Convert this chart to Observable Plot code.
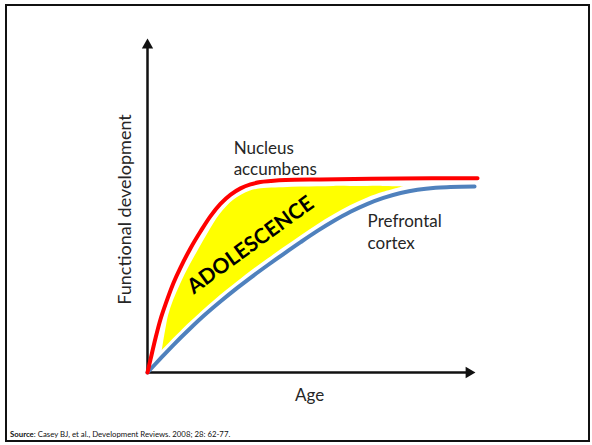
<!DOCTYPE html>
<html>
<head>
<meta charset="utf-8">
<script src="https://cdn.jsdelivr.net/npm/d3@7"></script>
<script src="https://cdn.jsdelivr.net/npm/@observablehq/plot@0.6"></script>
<style>
  html, body { margin: 0; padding: 0; background: #fff; }
  #wrap { position: relative; width: 592px; height: 445px; overflow: hidden; font-family: Lato, "Open Sans", sans-serif; }
  #frame { position: absolute; left: 5px; top: 4px; width: 585px; height: 438px; border: 2.5px solid #111; box-sizing: border-box; pointer-events: none; }
  #chart { position: absolute; left: 0; top: 0; }
  #caption { position: absolute; left: 10px; top: 430px; font-size: 7.8px; line-height: 8px; color: #111; white-space: nowrap; }
</style>
</head>
<body>
<div id="wrap">
  <div id="chart"></div>
  <div id="frame"></div>
  <div id="caption"><b>Source</b>: Casey BJ, et al., Development Reviews. 2008; 28: 62-77.</div>
</div>
<script>
// Nucleus accumbens (red) — age vs functional development (0–10 arbitrary units)
const redAge   = [0, 0.09, 0.24, 0.39, 0.55, 0.79, 1.00, 1.30, 1.61, 1.91, 2.21, 2.52, 2.82, 3.12, 3.42, 3.73, 4.18, 5.24, 7.67, 10];
const redLevel = [0, 0.39, 1.03, 1.60, 2.08, 2.72, 3.18, 3.76, 4.28, 4.74, 5.11, 5.39, 5.58, 5.70, 5.77, 5.80, 5.83, 5.85, 5.88, 5.89];

// Prefrontal cortex (blue)
const blueAge   = [0, 0.39, 0.79, 1.30, 1.73, 2.21, 2.73, 3.12, 3.64, 4.12, 4.64, 5.15, 5.64, 6.15, 6.67, 7.15, 7.67, 8.18, 8.73, 9.18, 9.91];
const blueLevel = [0, 0.42, 0.84, 1.34, 1.74, 2.15, 2.57, 2.87, 3.25, 3.59, 3.95, 4.29, 4.59, 4.87, 5.11, 5.29, 5.44, 5.54, 5.60, 5.62, 5.64];

// Adolescence band (yellow)
const bandAge  = [0.45, 0.55, 0.64, 0.79, 1.00, 1.30, 1.55, 1.85, 2.21, 2.61, 3.12, 3.64, 4.12, 4.64, 5.15, 5.64, 6.15, 6.67, 7.15, 7.76];
const bandLow  = [0.67, 0.77, 0.86, 1.02, 1.23, 1.52, 1.75, 2.02, 2.33, 2.65, 3.05, 3.43, 3.77, 4.13, 4.47, 4.77, 5.05, 5.29, 5.46, 5.63];
const bandHigh = [0.67, 1.27, 1.73, 2.18, 2.67, 3.27, 3.72, 4.24, 4.80, 5.22, 5.50, 5.58, 5.60, 5.62, 5.63, 5.64, 5.64, 5.64, 5.64, 5.63];

// Text
const yLabel = "Functional development";
const xLabel = "Age";
const redName = "Nucleus\naccumbens";
const blueName = "Prefrontal\ncortex";
const bandName = "ADOLESCENCE";

const red = redAge.map((a, i) => ({age: a, level: redLevel[i]}));
const blue = blueAge.map((a, i) => ({age: a, level: blueLevel[i]}));
const band = bandAge.map((a, i) => ({age: a, low: bandLow[i], high: bandHigh[i]}));

const ink = "#111";
const txt = "#262626";
const font = "Lato, 'Open Sans', sans-serif";

const chart = Plot.plot({
  width: 592,
  height: 445,
  marginLeft: 147,
  marginRight: 115,
  marginTop: 42,
  marginBottom: 73,
  x: {domain: [0, 10], axis: null},
  y: {domain: [0, 10], axis: null},
  style: {fontFamily: font, background: "transparent", overflow: "visible"},
  marks: [
    Plot.areaY(band, {x: "age", y1: "low", y2: "high", fill: "#ffff00", curve: "catmull-rom"}),
    // axes
    Plot.ruleX([0], {y1: 0, y2: 9.9, stroke: ink, strokeWidth: 2.5}),
    Plot.ruleY([0], {x1: 0, x2: 9.7, stroke: ink, strokeWidth: 2.5}),
    Plot.dot([{x: 0, y: 9.92, r: 0}, {x: 9.74, y: 0, r: 90}], {x: "x", y: "y", rotate: "r", symbol: "triangle", r: 4.2, fill: ink, stroke: "none"}),
    // curves
    Plot.line(blue, {x: "age", y: "level", stroke: "#4f81bd", strokeWidth: 4, curve: "catmull-rom"}),
    Plot.line(red, {x: "age", y: "level", stroke: "#ff0000", strokeWidth: 4, curve: "catmull-rom"}),
    // labels
    Plot.text([bandName], {x: 3.12, y: 3.86, text: d => d, rotate: -36, fontSize: 21, fontWeight: "bold", fill: "#000", textAnchor: "middle", lineAnchor: "middle"}),
    Plot.text([redName], {x: 2.61, y: 5.97, text: d => d, fontSize: 17, fill: txt, textAnchor: "start", lineAnchor: "bottom", lineHeight: 1.26}),
    Plot.text([blueName], {x: 6.67, y: 3.73, text: d => d, fontSize: 17, fill: txt, textAnchor: "start", lineAnchor: "bottom", lineHeight: 1.3}),
    Plot.text([xLabel], {x: 4.91, y: -0.85, text: d => d, fontSize: 17, fill: txt, textAnchor: "middle", lineAnchor: "bottom"}),
    Plot.text([yLabel], {x: -0.67, y: 4.94, text: d => d, rotate: -90, fontSize: 18, fill: txt, textAnchor: "middle", lineAnchor: "middle"})
  ]
});
document.getElementById("chart").appendChild(chart);
</script>
</body>
</html>
